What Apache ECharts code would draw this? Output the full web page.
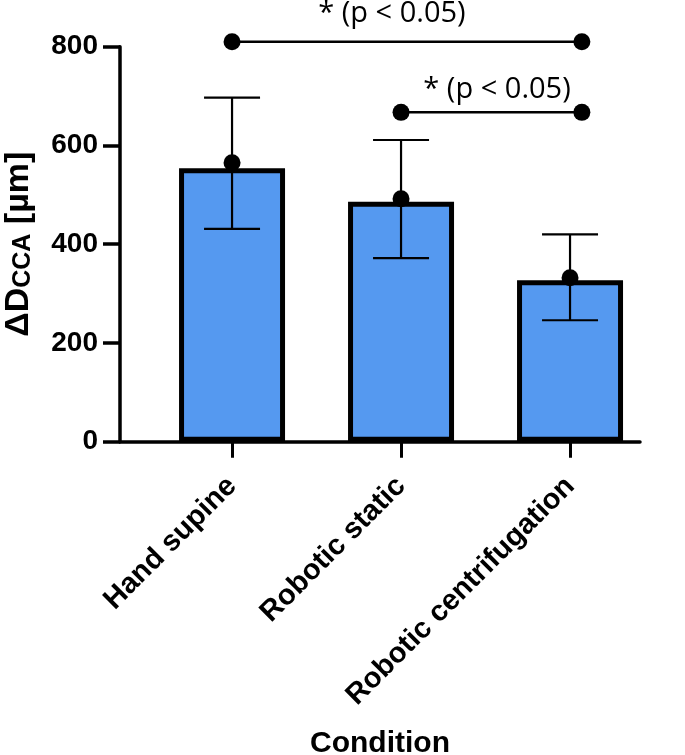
<!DOCTYPE html>
<html>
<head>
<meta charset="utf-8">
<script src="https://cdn.jsdelivr.net/npm/echarts@6/dist/echarts.min.js"></script>
<style>html,body{margin:0;padding:0;background:#fff;}#c{width:685px;height:755px;}</style>
</head>
<body>
<div id="c"></div>
<script>
const categories = ['Hand supine', 'Robotic static', 'Robotic centrifugation'];
const barValues = [554, 486, 327];
const meanValues = [565, 492, 332];
const errHigh = [697, 611, 420];
const errLow = [431, 372, 246];
const yTicks = [0, 200, 400, 600, 800];
const sig1 = [[0, 810], [2.07, 810]];
const sig2 = [[1, 667], [2.07, 667]];
const sigLabels = [[0.946, 866, '* (p < 0.05)'], [1.568, 712, '* (p < 0.05)']];

const chart = echarts.init(document.getElementById('c'));
const FONT = '"Liberation Sans", Arial, sans-serif';
const idx = categories.map((c, i) => i);

chart.setOption({
  animation: false,
  grid: { left: 120, right: 45, top: 46.7, bottom: 313.3, containLabel: false, outerBoundsMode: 'none' },
  xAxis: {
    type: 'value', min: -0.663, max: 2.414,
    splitLine: { show: false },
    axisLine: { show: true, onZero: false, lineStyle: { color: '#000', width: 3.5 } },
    axisTick: { show: true, customValues: idx, length: 16, lineStyle: { color: '#000', width: 3 } },
    axisLabel: {
      customValues: idx, rotate: 45, margin: 40,
      formatter: v => categories[Math.round(v)],
      fontFamily: FONT, fontWeight: 'bold', fontSize: 29, color: '#000'
    },
    name: 'Condition', nameLocation: 'middle', nameGap: 287,
    nameTextStyle: { fontFamily: FONT, fontWeight: 'bold', fontSize: 30, color: '#000' }
  },
  yAxis: {
    type: 'value', min: 0, max: 800, interval: 200,
    splitLine: { show: false },
    axisLine: { show: true, onZero: false, lineStyle: { color: '#000', width: 3.5 } },
    axisTick: { show: true, length: 17, lineStyle: { color: '#000', width: 3.5 } },
    axisLabel: { margin: 22, fontFamily: FONT, fontWeight: 'bold', fontSize: 28, color: '#000' },
    name: '{a|ΔD}{s|CCA}{a| [µm]}', nameLocation: 'middle', nameGap: 84, nameRotate: 90,
    nameTextStyle: {
      rich: {
        a: { fontFamily: FONT, fontWeight: 'bold', fontSize: 34, color: '#000', verticalAlign: 'bottom', lineHeight: 36 },
        s: { fontFamily: FONT, fontWeight: 'bold', fontSize: 25, color: '#000', verticalAlign: 'bottom', lineHeight: 36 }
      }
    }
  },
  series: [
    {
      type: 'bar', barWidth: 106,
      data: barValues.map((v, i) => [i, v]),
      itemStyle: { color: '#5599F0', borderColor: '#000', borderWidth: 5 },
      z: 2
    },
    {
      type: 'custom', z: 3,
      data: idx.map(i => [i, errLow[i], errHigh[i]]),
      renderItem: function (params, api) {
        const x = api.value(0);
        const lo = api.coord([x, api.value(1)]);
        const hi = api.coord([x, api.value(2)]);
        const hw = 28;
        const st = { stroke: '#000', lineWidth: 2.2 };
        return {
          type: 'group', children: [
            { type: 'line', shape: { x1: lo[0], y1: lo[1], x2: hi[0], y2: hi[1] }, style: st },
            { type: 'line', shape: { x1: hi[0] - hw, y1: hi[1], x2: hi[0] + hw, y2: hi[1] }, style: st },
            { type: 'line', shape: { x1: lo[0] - hw, y1: lo[1], x2: lo[0] + hw, y2: lo[1] }, style: st }
          ]
        };
      }
    },
    {
      type: 'scatter', z: 4, symbol: 'circle', symbolSize: 17,
      data: meanValues.map((v, i) => [i, v]),
      itemStyle: { color: '#000', opacity: 1 }
    },
    {
      type: 'line', z: 4, clip: false, symbol: 'circle', symbolSize: 17, showAllSymbol: true,
      data: sig1, lineStyle: { color: '#000', width: 2.5 }, itemStyle: { color: '#000', opacity: 1 }
    },
    {
      type: 'line', z: 4, clip: false, symbol: 'circle', symbolSize: 17, showAllSymbol: true,
      data: sig2, lineStyle: { color: '#000', width: 2.5 }, itemStyle: { color: '#000', opacity: 1 }
    },
    {
      type: 'scatter', z: 5, clip: false, symbolSize: 0,
      itemStyle: { opacity: 1 },
      data: sigLabels.map(d => ({ value: [d[0], d[1]], label: { formatter: d[2] } })),
      label: { show: true, position: 'inside', fontFamily: '"Open Sans", sans-serif', fontSize: 29, color: '#000' }
    }
  ]
});
</script>
</body>
</html>
